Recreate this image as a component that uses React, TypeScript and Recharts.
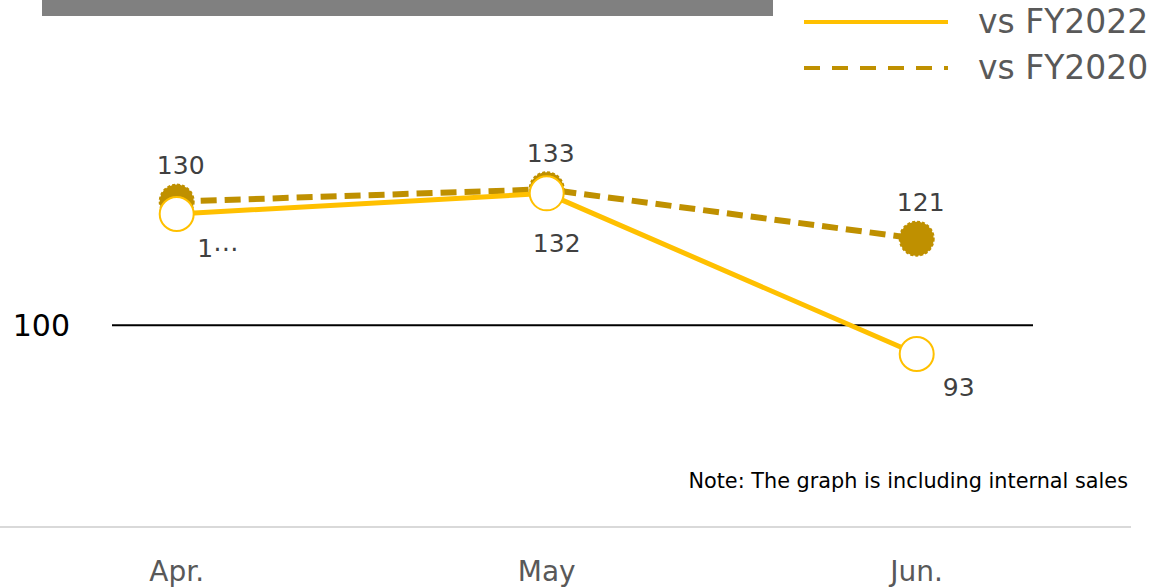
import React from 'react';
import {
  LineChart,
  Line,
  XAxis,
  YAxis,
  ReferenceLine,
  LabelList,
} from 'recharts';

// months on the x axis
const months: string[] = ['Apr.', 'May', 'Jun.'];

// year-on-year index values
const vsFY2022: number[] = [127, 132, 93];
const vsFY2020: number[] = [130, 133, 121];

// labels as printed in the source (the first one is cut off there)
const vsFY2022Labels: string[] = ['1⋯', '132', '93'];

const yTicks: number[] = [100];

const GOLD = '#FFC000';
const DARK_GOLD = '#BF9000';
const FONT = '"DejaVu Sans", Verdana, sans-serif';

// hand-placed label offsets for the solid series, like in the source deck
const solidLabelNudge = [
  { dx: 41, dy: 35 },
  { dx: 10, dy: 50 },
  { dx: 42, dy: 33 },
];

const data = months.map((m, i) => ({
  month: m,
  fy2022: vsFY2022[i],
  fy2020: vsFY2020[i],
}));

const SolidLabel = (props: any) => {
  const { x, y, index } = props;
  const n = solidLabelNudge[index] || { dx: 0, dy: 40 };
  return (
    <text
      x={x + n.dx}
      y={y + n.dy}
      textAnchor="middle"
      dominantBaseline="central"
      fontSize={25}
      fontFamily={FONT}
      fill="#404040"
    >
      {vsFY2022Labels[index]}
    </text>
  );
};

const DashedLabel = (props: any) => {
  const { x, y, value } = props;
  return (
    <text
      x={x + 4}
      y={y - 36}
      textAnchor="middle"
      dominantBaseline="central"
      fontSize={25}
      fontFamily={FONT}
      fill="#404040"
    >
      {value}
    </text>
  );
};

const YTick = (props: any) => {
  const { x, y, payload } = props;
  return (
    <text x={x} y={y} textAnchor="end" dominantBaseline="central" fontSize={30} fontFamily={FONT} fill="#000">
      {payload.value}
    </text>
  );
};

const XTick = (props: any) => {
  const { x, y, payload } = props;
  return (
    <text x={x} y={y} textAnchor="middle" dominantBaseline="hanging" fontSize={28} fontFamily={FONT} fill="#595959">
      {payload.value}
    </text>
  );
};

const LegendRow = ({ color, dashed, label, top }: { color: string; dashed?: boolean; label: string; top: number }) => (
  <div style={{ position: 'absolute', left: 803, top, height: 40, display: 'flex', alignItems: 'center' }}>
    <svg width={146} height={10} style={{ display: 'block' }}>
      <line
        x1={1}
        x2={145}
        y1={5}
        y2={5}
        stroke={color}
        strokeWidth={4}
        strokeDasharray={dashed ? '16 12' : undefined}
      />
    </svg>
    <span style={{ marginLeft: 29, fontSize: 33, fontFamily: FONT, color: '#595959', lineHeight: '40px' }}>{label}</span>
  </div>
);

export default function App() {
  return (
    <div style={{ position: 'absolute', left: 0, top: 0, width: 1158, height: 588, background: '#fff', overflow: 'hidden' }}>
      {/* title bar placeholder */}
      <div style={{ position: 'absolute', left: 42, top: 0, width: 731, height: 16, background: '#808080' }} />

      <LegendRow color={GOLD} label="vs FY2022" top={2} />
      <LegendRow color={DARK_GOLD} dashed label="vs FY2020" top={48} />

      <LineChart
        width={1158}
        height={588}
        data={data}
        margin={{ top: 78, right: 125, bottom: 0, left: 0 }}
        style={{ position: 'absolute', left: 0, top: 0 }}
      >
        <XAxis
          dataKey="month"
          axisLine={false}
          tickLine={false}
          tickSize={0}
          tickMargin={70}
          height={98}
          padding={{ left: 64.7, right: 116.3 }}
          tick={<XTick />}
          interval={0}
        />
        <YAxis
          domain={[60, 160]}
          ticks={yTicks}
          width={112}
          axisLine={false}
          tickLine={false}
          tickSize={0}
          tickMargin={42}
          tick={<YTick />}
        />
        <ReferenceLine y={100} stroke="#000" strokeWidth={2} />
        <Line
          dataKey="fy2020"
          stroke={DARK_GOLD}
          strokeWidth={6}
          strokeDasharray="16 8"
          dot={{ r: 17, fill: DARK_GOLD, stroke: DARK_GOLD, strokeWidth: 2, strokeDasharray: '3 2' }}
          isAnimationActive={false}
        >
          <LabelList dataKey="fy2020" content={<DashedLabel />} />
        </Line>
        <Line
          dataKey="fy2022"
          stroke={GOLD}
          strokeWidth={5}
          dot={{ r: 17, fill: '#fff', stroke: GOLD, strokeWidth: 2 }}
          isAnimationActive={false}
        >
          <LabelList dataKey="fy2022" content={<SolidLabel />} />
        </Line>
      </LineChart>

      <div
        style={{
          position: 'absolute',
          right: 30,
          top: 469,
          fontSize: 20.8,
          fontFamily: FONT,
          color: '#000',
          whiteSpace: 'nowrap',
        }}
      >
        Note: The graph is including internal sales
      </div>
      <div style={{ position: 'absolute', left: 0, top: 526, width: 1131, height: 2, background: '#d9d9d9' }} />
    </div>
  );
}
